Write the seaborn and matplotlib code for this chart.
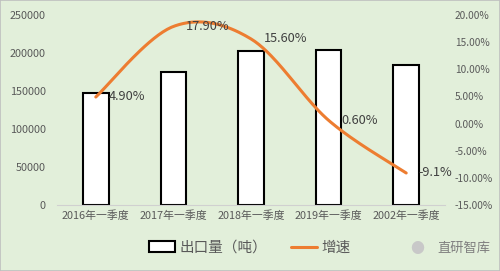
import numpy as np
import pandas as pd
import matplotlib
matplotlib.use("Agg")
import matplotlib.pyplot as plt
from matplotlib.patches import Rectangle, Patch
from matplotlib.lines import Line2D
import seaborn as sns

categories = ["2016年一季度", "2017年一季度", "2018年一季度", "2019年一季度", "2002年一季度"]
export_volume = [148000, 175000, 203000, 204000, 184000]
growth_rate = [4.9, 17.9, 15.6, 0.6, -9.1]
growth_labels = ["4.90%", "17.90%", "15.60%", "0.60%", "-9.1%"]
left_ticks = [0, 50000, 100000, 150000, 200000, 250000]
right_ticks = [-15, -10, -5, 0, 5, 10, 15, 20]

sns.set_theme(style="white")
plt.rcParams['font.family'] = ['Noto Sans CJK SC', 'DejaVu Sans']

BG = "#E2EFDA"
ORANGE = "#ED7D31"
TXT = "#595959"

fig = plt.figure(figsize=(5.0, 2.71), dpi=100)
fig.patch.set_facecolor(BG)
ax = fig.add_axes([0.114, 0.2435, 0.776, 0.701])
ax.set_facecolor(BG)

df = pd.DataFrame({"cat": categories, "vol": export_volume})
sns.barplot(data=df, x="cat", y="vol", ax=ax, color="white", edgecolor="black",
            linewidth=1.5, width=0.33, saturation=1)
ax.set_ylim(0, 250000)
ax.set_xlim(-0.5, len(categories) - 0.5)
ax.set_yticks(left_ticks)
ax.set_yticklabels([str(t) for t in left_ticks])
ax.set_xlabel("")
ax.set_ylabel("")
for s in ["top", "right", "left"]:
    ax.spines[s].set_visible(False)
ax.spines["bottom"].set_color("#D0D0D0")
ax.spines["bottom"].set_linewidth(0.8)
ax.tick_params(axis="x", length=0, labelsize=7.8, colors=TXT, pad=4)
ax.tick_params(axis="y", length=0, labelsize=7.8, colors=TXT, pad=8)

ax2 = ax.twinx()
ax2.set_ylim(-15, 20)
ax2.set_yticks(right_ticks)
ax2.set_yticklabels([f"{t:.2f}%" for t in right_ticks])
for s in ax2.spines.values():
    s.set_visible(False)
ax2.tick_params(axis="y", length=0, labelsize=7.3, colors=TXT, pad=7)
ax2.grid(False)
ax.grid(False)

# smoothed line (Catmull-Rom style, as in Excel "smoothed line")
xs = np.arange(len(growth_rate), dtype=float)
ys = np.array(growth_rate, dtype=float)
P = np.column_stack([xs, ys])
curve = []
for i in range(len(P) - 1):
    p0 = P[i - 1] if i > 0 else P[i]
    p1 = P[i]
    p2 = P[i + 1]
    p3 = P[i + 2] if i + 2 < len(P) else P[i + 1]
    c1 = p1 + (p2 - p0) / 6
    c2 = p2 - (p3 - p1) / 6
    t = np.linspace(0, 1, 40)[:, None]
    seg = (1 - t) ** 3 * p1 + 3 * (1 - t) ** 2 * t * c1 + 3 * (1 - t) * t ** 2 * c2 + t ** 3 * p2
    curve.append(seg if i == 0 else seg[1:])
curve = np.vstack(curve)
sns.lineplot(x=curve[:, 0], y=curve[:, 1], ax=ax2, color=ORANGE, linewidth=2.2,
             sort=False, estimator=None)

for i, lab in enumerate(growth_labels):
    ax2.annotate(lab, (xs[i], ys[i]), xytext=(9, 0), textcoords="offset points",
                 ha="left", va="center", fontsize=9.2, color="#404040")

# legend
handles = [Patch(facecolor="white", edgecolor="black", linewidth=1.5),
           Line2D([0], [0], color=ORANGE, linewidth=2.2)]
fig.legend(handles, ["出口量（吨）", "增速"], loc="center", bbox_to_anchor=(0.5, 0.085),
           ncol=2, frameon=False, fontsize=10.5, handlelength=1.8, handleheight=0.8,
           columnspacing=1.6, handletextpad=0.3, labelcolor=TXT)

# watermark
fig.text(0.835, 0.083, "●", color="#C8C8C8", fontsize=10, ha="center", va="center")
fig.text(0.874, 0.083, "直研智库", color="#7F7F7F", fontsize=9.5, ha="left", va="center")

# border
fig.add_artist(Rectangle((0, 0), 1, 1, transform=fig.transFigure, fill=False,
                         edgecolor="#BFBFBF", linewidth=1.2))

fig.savefig("out.png", dpi=100, facecolor=BG)
